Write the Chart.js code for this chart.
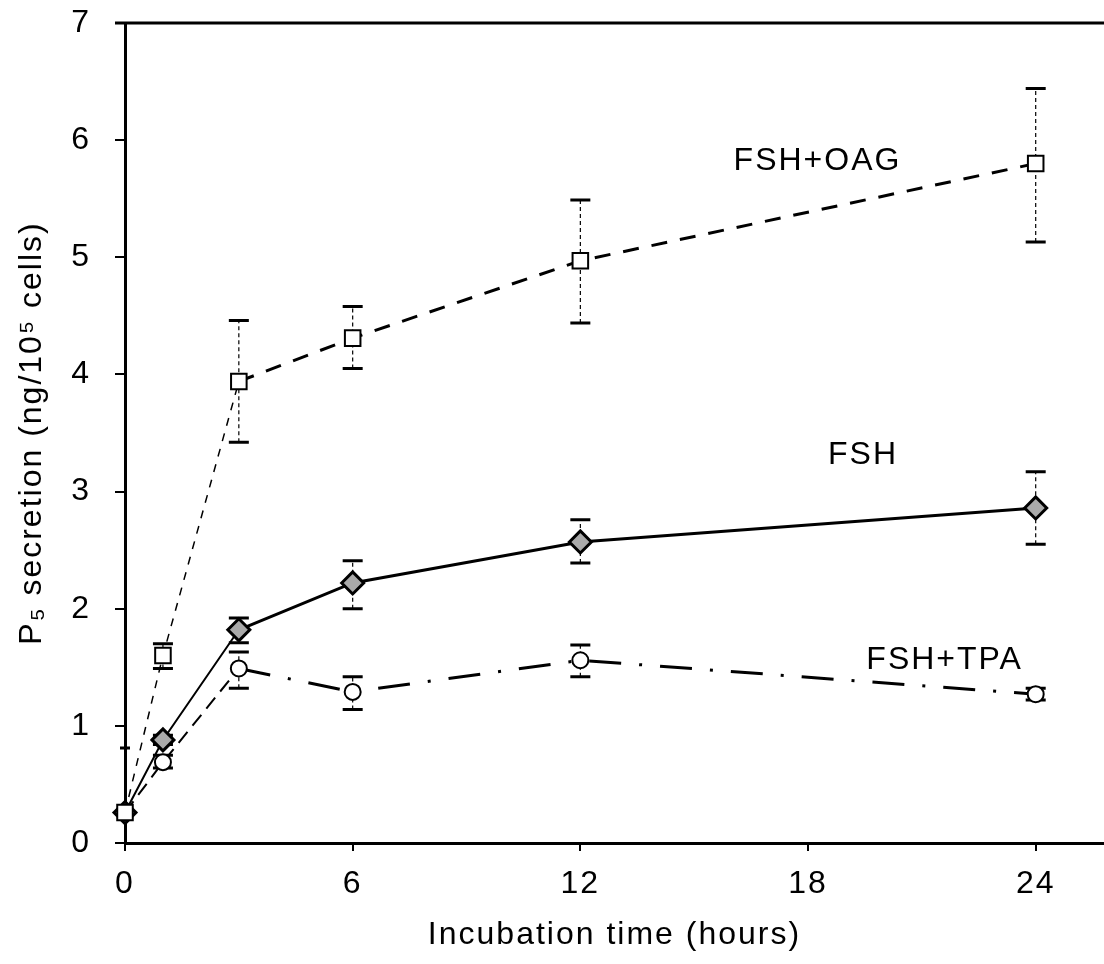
<!DOCTYPE html>
<html lang="en">
<head>
  <meta charset="UTF-8">
  <title>P5 secretion vs incubation time</title>
  <script src="https://cdn.jsdelivr.net/npm/chart.js"></script>
  <style>
    html, body { margin: 0; padding: 0; background: #fff; }
    #wrap { width: 1104px; height: 964px; position: relative; }
  </style>
</head>
<body>
  <div id="wrap"><canvas id="p5Chart"></canvas></div>

  <script>
    // data
    const hours = [0, 1, 3, 6, 12, 24];

    const oagMean = [0.26, 1.60, 3.94, 4.31, 4.97, 5.80];
    const oagLow  = [0.26, 1.49, 3.42, 4.05, 4.44, 5.13];
    const oagHigh = [0.81, 1.70, 4.46, 4.58, 5.49, 6.44];

    const fshMean = [0.26, 0.88, 1.82, 2.22, 2.57, 2.86];
    const fshLow  = [0.22, 0.84, 1.71, 2.00, 2.39, 2.55];
    const fshHigh = [0.30, 0.92, 1.92, 2.41, 2.76, 3.17];

    const tpaMean = [0.26, 0.69, 1.49, 1.29, 1.56, 1.27];
    const tpaLow  = [0.22, 0.64, 1.32, 1.14, 1.42, 1.22];
    const tpaHigh = [0.30, 0.75, 1.63, 1.42, 1.69, 1.32];

    const xTicks = [0, 6, 12, 18, 24];
    const yTicks = [0, 1, 2, 3, 4, 5, 6, 7];

    // curve labels: [text, x, y] in data units
    const curveLabels = [
      ['FSH+OAG', 18.25, 5.82],
      ['FSH', 19.45, 3.31],
      ['FSH+TPA', 21.6, 1.56]
    ];

    const FONT = '"Liberation Sans", Arial, sans-serif';

    const toPoints = (ys) => ys.map((y, i) => ({ x: hours[i], y }));

    // thinner lines for the early part of each curve
    const early = (ctx) => ctx.p1.parsed.x <= 3;

    const errorBars = {
      id: 'errorBars',
      beforeDatasetsDraw(chart) {
        const { ctx, scales: { x, y } } = chart;
        const sets = [[oagLow, oagHigh], [fshLow, fshHigh], [tpaLow, tpaHigh]];
        ctx.save();
        ctx.strokeStyle = '#000';
        sets.forEach(([lo, hi]) => {
          hours.forEach((h, i) => {
            const px = x.getPixelForValue(h);
            const y1 = y.getPixelForValue(lo[i]);
            const y2 = y.getPixelForValue(hi[i]);
            ctx.lineWidth = 1.2;
            ctx.setLineDash([4, 3]);
            ctx.beginPath();
            ctx.moveTo(px, y1);
            ctx.lineTo(px, y2);
            ctx.stroke();
            ctx.setLineDash([]);
            ctx.lineWidth = 3;
            const half = h === 0 ? 5 : 10;
            ctx.beginPath();
            ctx.moveTo(px - half, y1); ctx.lineTo(px + half, y1);
            ctx.moveTo(px - half, y2); ctx.lineTo(px + half, y2);
            ctx.stroke();
          });
        });
        ctx.restore();
      }
    };

    const frameAndLabels = {
      id: 'frameAndLabels',
      beforeDraw(chart) {
        chart.ctx.letterSpacing = '2px';
      },
      afterDraw(chart) {
        const { ctx, chartArea, scales: { x, y } } = chart;
        ctx.save();
        ctx.strokeStyle = '#000';
        ctx.lineWidth = 3;
        ctx.beginPath();
        ctx.moveTo(chartArea.left - 10, chartArea.top);
        ctx.lineTo(chart.width, chartArea.top);
        ctx.stroke();

        ctx.fillStyle = '#000';
        ctx.font = '32px ' + FONT;
        ctx.textAlign = 'center';
        ctx.textBaseline = 'middle';
        curveLabels.forEach(([t, vx, vy]) => {
          ctx.fillText(t, x.getPixelForValue(vx), y.getPixelForValue(vy));
        });
        ctx.restore();
      }
    };

    const ctx = document.getElementById('p5Chart').getContext('2d');
    new Chart(ctx, {
      type: 'line',
      data: {
        datasets: [
          {
            label: 'FSH+OAG',
            data: toPoints(oagMean),
            borderColor: '#000',
            borderWidth: 3,
            borderDash: [16, 13],
            pointStyle: 'rect',
            pointRadius: 11,
            pointBorderWidth: 2,
            pointBorderColor: '#000',
            pointBackgroundColor: '#fff',
            clip: false,
            segment: {
              borderWidth: c => early(c) ? 1.5 : 3,
              borderDash: c => early(c) ? [8, 8] : [16, 13]
            }
          },
          {
            label: 'FSH',
            data: toPoints(fshMean),
            borderColor: '#000',
            borderWidth: 3,
            pointStyle: 'rectRot',
            pointRadius: 11,
            pointBorderWidth: 3,
            pointBorderColor: '#000',
            pointBackgroundColor: '#aaa',
            clip: false,
            segment: {
              borderWidth: c => early(c) ? 2 : 3
            }
          },
          {
            label: 'FSH+TPA',
            data: toPoints(tpaMean),
            borderColor: '#000',
            borderWidth: 3,
            borderDash: [32, 18, 3, 18],
            pointStyle: 'circle',
            pointRadius: 8,
            pointBorderWidth: 2,
            pointBorderColor: '#000',
            pointBackgroundColor: '#fff',
            clip: false,
            segment: {
              borderWidth: c => early(c) ? 2 : 3,
              borderDash: c => early(c) ? [14, 8] : [32, 18, 3, 18]
            }
          }
        ]
      },
      options: {
        responsive: true,
        maintainAspectRatio: false,
        animation: false,
        layout: { autoPadding: false, padding: { top: 23, right: 0, left: 0, bottom: 0 } },
        plugins: {
          legend: { display: false },
          tooltip: { enabled: false }
        },
        scales: {
          x: {
            type: 'linear',
            min: 0,
            max: 25.8,
            afterBuildTicks: s => { s.ticks = xTicks.map(v => ({ value: v })); },
            afterFit: s => { s.height = 121; s.paddingLeft = 0; s.paddingRight = 0; },
            ticks: {
              color: '#000',
              font: { family: FONT, size: 32 },
              padding: 14,
              maxRotation: 0
            },
            grid: { drawOnChartArea: false, tickLength: 8, color: '#000', lineWidth: 2 },
            border: { display: true, color: '#000', width: 3 },
            title: {
              display: true,
              text: 'Incubation time (hours)',
              color: '#000',
              font: { family: FONT, size: 32 },
              padding: { top: 0, bottom: 10 }
            }
          },
          y: {
            min: 0,
            max: 7,
            afterBuildTicks: s => { s.ticks = yTicks.map(v => ({ value: v })); },
            afterFit: s => { s.width = 125; s.paddingTop = 0; s.paddingBottom = 0; },
            ticks: {
              color: '#000',
              font: { family: FONT, size: 32 },
              padding: 24
            },
            grid: { drawOnChartArea: false, tickLength: 10, color: '#000', lineWidth: 2 },
            border: { display: true, color: '#000', width: 3 },
            title: {
              display: true,
              text: 'P\u2085 secretion (ng/10\u2075 cells)',
              color: '#000',
              font: { family: FONT, size: 32 },
              padding: { top: 13, bottom: 0 }
            }
          }
        }
      },
      plugins: [errorBars, frameAndLabels]
    });
  </script>
</body>
</html>
